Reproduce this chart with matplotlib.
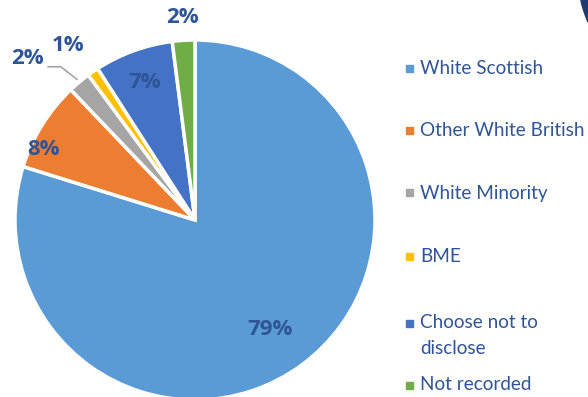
import numpy as np
import matplotlib.pyplot as plt
from matplotlib.patches import Polygon

# Ethnicity breakdown (%)
groups = ["White Scottish", "Other White British", "White Minority", "BME",
          "Choose not to\ndisclose", "Not recorded"]
shares = [79, 8, 2, 1, 7, 2]
colors = ["#5B9BD5", "#ED7D31", "#A5A5A5", "#FFC000", "#4472C4", "#70AD47"]

text_blue = "#2F5597"
plt.rcParams['font.family'] = ['Lato', 'DejaVu Sans']

W, H = 588, 397
fig = plt.figure(figsize=(W / 100, H / 100), dpi=100)

# pie centre (195, 220) px, radius 180 px
cx, cy, r = 195, 220, 180
ax = fig.add_axes([(cx - r) / W, (H - cy - r) / H, 2 * r / W, 2 * r / H])
wedges, _ = ax.pie(shares, colors=colors, startangle=90, counterclock=False,
                   radius=1.0, wedgeprops=dict(edgecolor="white", linewidth=2.5))
ax.set_xlim(-1, 1)
ax.set_ylim(-1, 1)
ax.set_aspect("equal")
ax.axis("off")

# data labels: radius factor and small angular nudge per wedge
label_r = [0.74, 0.93, 1.29, 1.20, 0.81, 1.13]
label_dang = [-2, 7, 6, 1.5, 0, 0]
for w, v, lr, da in zip(wedges, shares, label_r, label_dang):
    ang = np.deg2rad((w.theta1 + w.theta2) / 2 + da)
    ax.text(lr * np.cos(ang), lr * np.sin(ang), f"{v}%", ha="center", va="center",
            fontsize=16, fontweight="bold", family=["Open Sans", "DejaVu Sans"],
            color=text_blue, clip_on=False)

# leader line for the White Minority label
wm = wedges[2]
a = np.deg2rad((wm.theta1 + wm.theta2) / 2)
p0 = (1.02 * np.cos(a), 1.02 * np.sin(a))
p1 = (p0[0] - 0.09, p0[1] + 0.07)
p2 = (p1[0] - 0.07, p1[1])
ax.plot([p0[0], p1[0], p2[0]], [p0[1], p1[1], p2[1]], color="#A5A5A5",
        lw=1.2, clip_on=False)

# legend on the right
leg_y = [68, 130, 193, 256, 323, 385]
for name, c, y in zip(groups, colors, leg_y):
    fig.patches.append(plt.Rectangle(((W - 183 + 0.5) / W, (H - y - 3.5) / H), 7 / W, 7 / H,
                                     transform=fig.transFigure, color=c))
    lines = name.split("\n")
    for i, line in enumerate(lines):
        fig.text(420 / W, (H - y - 26 * i) / H, line, ha="left", va="center",
                 fontsize=13.6, color=text_blue)

# dark corner shape in the top right
t = np.linspace(0, 1, 20)
xs = 581 + 7 * t ** 1.3
ys = 22 * t
pts = [(x / W, (H - y) / H) for x, y in zip(xs, ys)] + [(1, 1)]
fig.patches.append(Polygon(pts, closed=True, transform=fig.transFigure,
                           color="#1F3A6E"))

fig.savefig("out.png", dpi=100)
